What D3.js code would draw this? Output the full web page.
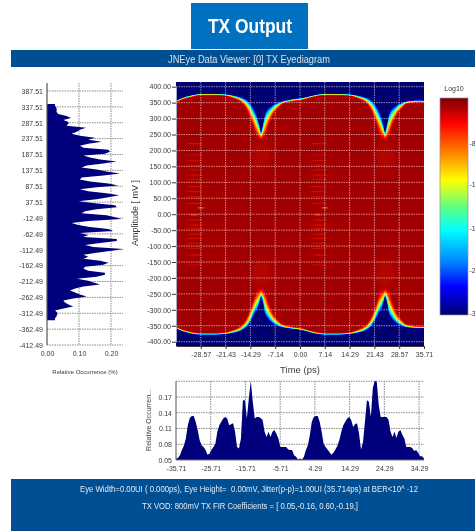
<!DOCTYPE html>
<html lang="en">

<head>
    <meta charset="UTF-8">
    <title>TX Output</title>
    <script src="https://cdn.jsdelivr.net/npm/d3@7"></script>
    <style>
        html, body {
            margin: 0;
            padding: 0;
            background: #fff;
        }

        svg {
            display: block;
            filter: blur(0.5px);
        }

        text {
            font-family: "Liberation Sans", Arial, sans-serif;
        }
    </style>
</head>

<body>
    <svg id="svg1" width="475" height="531"></svg>
    <script>
        // amplitude histogram (left), top bin to bottom bin
        const amplitudeOccurrence = [
            .025, .025, .030, .030, .030, .035, .061, .075, .051, .067, .067, .061, .122, .103, .093, .077,
            .103, .150, .129, .171, .129, .103, .114, .192, .197, .181, .114, .134, .166, .218, .176, .124,
            .108, .155, .186, .228, .176, .108, .103, .134, .192, .223, .155, .103, .129, .186, .226, .192,
            .155, .098, .150, .213, .218, .155, .119, .108, .186, .213, .233, .129, .077,
            .098, .134, .192, .207, .103, .129, .114, .218, .218, .166, .119, .145, .239, .202, .155, .114,
            .129, .114, .166, .192, .176, .119, .114, .129, .181, .181, .155, .093, .129, .145, .166, .114,
            .088, .072, .088, .103, .124, .082, .051, .056, .067, .082, .051, .025, .032, .032, .030, .025, .025
        ];
        const amplitudeTicks = [387.51, 337.51, 287.51, 237.51, 187.51, 137.51, 87.51, 37.51, -12.49,
            -62.49, -112.49, -162.49, -212.49, -262.49, -312.49, -362.49, -412.49];
        const occurrenceTicks = [0, 0.1, 0.2];

        // jitter histogram (bottom), left to right
        const timeOccurrence = [
            .053, .054, .059, .069, .077, .091, .116, .130, .134, .134, .123, .107, .088, .078, .075, .069,
            .060, .062, .069, .075, .081, .104, .116, .123, .129, .132, .129, .116, .118, .120, .104, .075,
            .072, .091, .164, .164, .129, .167, .201, .161, .129, .132, .132, .130, .126, .104, .094, .104,
            .094, .104, .107, .100, .091, .075, .075, .075, .075, .070, .069, .069, .059, .056, .051,
            .053, .051, .056, .069, .078, .097, .123, .132, .134, .134, .123, .104, .081, .075, .070, .065,
            .060, .064, .070, .077, .088, .104, .116, .123, .129, .132, .126, .113, .118, .120, .100, .070,
            .084, .123, .164, .161, .132, .187, .201, .199, .155, .132, .132, .132, .132, .126, .104, .094,
            .104, .092, .104, .107, .098, .091, .075, .075, .075, .073, .067, .069, .064, .057, .057, .053
        ];
        const jitterTicks = [-35.71, -25.71, -15.71, -5.71, 4.29, 14.29, 24.29, 34.29];
        const jitterValueTicks = [0.05, 0.08, 0.11, 0.14, 0.17];

        // eye contours, mV at each time point: navy side and red side of each edge
        const eyeTimes = [-35.71, -33.69, -31.68, -28.5, -24.76, -21.3, -19.28, -17.27, -16.11, -14.96, -13.81, -13.23,
            -12.37, -11.79, -11.21, -10.64, -10.06, -9.2, -8.33, -7.47, -6.31, -5.16, -3.44, -1.7,
            0, 2.02, 4.03, 7.21, 10.95, 14.41, 16.43, 18.44, 19.6, 20.75, 21.9, 22.48,
            23.34, 23.92, 24.5, 25.07, 25.65, 26.51, 27.38, 28.24, 29.4, 30.55, 32.27, 34.01, 35.71];
        const upperNavy = [356, 366, 372, 378, 378, 376, 373, 368, 365, 358, 343, 332,
            311, 285, 259, 285, 320, 335, 341, 347, 351, 354, 358, 362,
            364, 368, 373, 378, 378, 376, 373, 368, 365, 358, 343, 332,
            311, 285, 259, 285, 320, 335, 341, 347, 351, 354, 356, 357, 356];
        const upperRed = [348, 358, 364, 371, 371, 369, 361, 350, 336, 311, 275, 255,
            230, 230, 230, 230, 230, 264, 290, 311, 328, 343, 349, 352,
            354, 360, 366, 371, 371, 369, 361, 350, 336, 311, 275, 255,
            230, 230, 230, 230, 230, 264, 290, 311, 328, 343, 347, 349, 348];
        const lowerNavy = [-358, -368, -374, -378, -378, -376, -373, -368, -362, -352, -332, -318,
            -305, -285, -262, -280, -318, -333, -342, -348, -352, -355, -358, -361,
            -363, -368, -374, -378, -378, -376, -373, -368, -362, -352, -332, -318,
            -305, -285, -262, -280, -318, -333, -342, -348, -352, -355, -357, -358, -358];
        const lowerRed = [-350, -360, -366, -371, -371, -368, -360, -348, -334, -308, -272, -252,
            -230, -230, -230, -230, -230, -262, -290, -310, -328, -342, -348, -352,
            -354, -360, -366, -371, -371, -368, -360, -348, -334, -308, -272, -252,
            -230, -230, -230, -230, -230, -262, -290, -310, -328, -342, -347, -350, -350];

        // ringing streaks inside the eye
        const streakTimes = [-28.57, 7.14];
        const brightStreaks = [222, 186, 168, 154, 139, 123, 110, 86, 71, 55, 34, -18, -34, -44, -62, -76, -91, -107, -128, -159];
        const faintStreaks = [335, 315, 295, 275, 255, -190, -215, -245, -275, -305, -330];
        const dipTimes = [-11.21, 24.5];
        const dipGlowLevels = [185, -185];

        const eyeXTicks = [-28.57, -21.43, -14.29, -7.14, 0, 7.14, 14.29, 21.43, 28.57, 35.71];
        const eyeYTicks = [400, 350, 300, 250, 200, 150, 100, 50, 0, -50, -100, -150, -200, -250, -300, -350, -400];

        // colour bar
        const barStops = [0, 0.115, 0.25, 0.378, 0.503, 0.608, 0.76, 0.87, 1];
        const barColors = ["#7a0000", "#ff0000", "#ff8000", "#ffff00", "#60ff80", "#00ffff", "#0080ff", "#0000ff", "#000070"];
        const barLabels = ["-8", "-1", "-1", "-2", "-3"];
        const barLabelPos = [0.208, 0.4, 0.6, 0.797, 0.995];

        const svg = d3.select("#svg1");
        const inkColor = "#3a3a3a";
        const gridGrey = "#8a8a8a";
        const navy = "#00007c";

        // d3.format gives a real minus sign, the original has plain hyphens
        const tickText = d => d3.format(".2f")(d).replace("\u2212", "-");

        // header and footer
        svg.append("rect").attr("x", 191).attr("y", 3).attr("width", 117).attr("height", 46).attr("fill", "#0070c0");
        svg.append("rect").attr("x", 11).attr("y", 50).attr("width", 464).attr("height", 17).attr("fill", "#004f92");
        svg.append("rect").attr("x", 11).attr("y", 479).attr("width", 464).attr("height", 52).attr("fill", "#004f92");

        svg.append("text").attr("x", 250).attr("y", 33).attr("text-anchor", "middle")
            .attr("font-size", 21).attr("font-weight", "bold").attr("fill", "#fff")
            .attr("textLength", 84).attr("lengthAdjust", "spacingAndGlyphs").text("TX Output");
        svg.append("text").attr("x", 249).attr("y", 63).attr("text-anchor", "middle")
            .attr("font-size", 10.5).attr("fill", "#d5e0ec")
            .attr("textLength", 162).attr("lengthAdjust", "spacingAndGlyphs").text("JNEye Data Viewer: [0] TX Eyediagram");
        svg.append("text").attr("x", 249).attr("y", 492).attr("text-anchor", "middle")
            .attr("font-size", 8.5).attr("fill", "#e4ebf3").attr("xml:space", "preserve")
            .attr("textLength", 338).attr("lengthAdjust", "spacingAndGlyphs")
            .text("Eye Width=0.00UI ( 0.000ps), Eye Height=  0.00mV, Jitter(p-p)=1.00UI (35.714ps) at BER<10^ -12");
        svg.append("text").attr("x", 250).attr("y", 509).attr("text-anchor", "middle")
            .attr("font-size", 8.5).attr("fill", "#e4ebf3")
            .attr("textLength", 216).attr("lengthAdjust", "spacingAndGlyphs")
            .text("TX VOD: 800mV TX FIR Coefficients = [ 0.05,-0.16, 0.60,-0.19,]");

        function styleAxis(g, size) {
            g.selectAll("text").attr("font-size", size).attr("fill", inkColor).style("font-family", '"Liberation Sans", Arial, sans-serif');
            g.selectAll("line").attr("stroke", inkColor);
            g.select(".domain").attr("stroke", inkColor);
        }

        // ---- eye diagram ----
        const eyeX = d3.scaleLinear().domain([-35.71, 35.71]).range([176, 424]);
        const eyeY = d3.scaleLinear().domain([400, -400]).range([86.7, 341.7]);
        const eyeTop = 82, eyeBottom = 346;

        const defs = svg.append("defs");
        defs.append("clipPath").attr("id", "eyeClip").append("rect")
            .attr("x", 176).attr("y", eyeTop).attr("width", 248).attr("height", eyeBottom - eyeTop);
        const soft = defs.append("filter").attr("id", "soft").attr("x", "-50%").attr("y", "-200%").attr("width", "200%").attr("height", "500%");
        soft.append("feGaussianBlur").attr("stdDeviation", "1.2 0.6");
        const glow = defs.append("filter").attr("id", "glow").attr("x", "-100%").attr("y", "-100%").attr("width", "300%").attr("height", "300%");
        glow.append("feGaussianBlur").attr("stdDeviation", 5);

        const barColor = d3.scaleLinear().domain(barStops).range(barColors);

        const eye = svg.append("g").attr("clip-path", "url(#eyeClip)");
        eye.append("rect").attr("x", 176).attr("y", eyeTop).attr("width", 248).attr("height", eyeBottom - eyeTop).attr("fill", barColor(1));

        // stacked contour bands from the navy edge in to the red body,
        // the blues go by quickly and the reds take most of the width
        const bandCount = 36;
        const eyeIndex = d3.range(eyeTimes.length);
        d3.range(bandCount + 1).forEach(k => {
            const f = k / bandCount;
            const band = d3.area()
                .x(i => eyeX(eyeTimes[i]))
                .y0(i => eyeY(lowerNavy[i] + (lowerRed[i] - lowerNavy[i]) * f))
                .y1(i => eyeY(upperNavy[i] + (upperRed[i] - upperNavy[i]) * f))
                .curve(d3.curveMonotoneX);
            eye.append("path").attr("d", band(eyeIndex)).attr("fill", barColor(0.035 + 0.945 * Math.pow(1 - f, 1.8)));
        });

        const streaks = eye.append("g").attr("filter", "url(#soft)");
        streakTimes.forEach(t => {
            streaks.selectAll(null).data(faintStreaks).join("ellipse")
                .attr("cx", eyeX(t)).attr("cy", d => eyeY(d))
                .attr("rx", 24).attr("ry", 0.7).attr("fill", "#7f0000").attr("opacity", 0.3);
            streaks.selectAll(null).data(brightStreaks).join("ellipse")
                .attr("cx", eyeX(t) - 6).attr("cy", d => eyeY(d))
                .attr("rx", 9).attr("ry", 0.7).attr("fill", "#e81000").attr("opacity", 0.65);
            streaks.selectAll(null).data(brightStreaks).join("ellipse")
                .attr("cx", eyeX(t) + 9).attr("cy", d => eyeY(d))
                .attr("rx", 11).attr("ry", 0.6).attr("fill", "#c80a00").attr("opacity", 0.25);
            // hot spots around mid amplitude
            streaks.append("ellipse").attr("cx", eyeX(t)).attr("cy", eyeY(20)).attr("rx", 3).attr("ry", 0.9).attr("fill", "#ff8000").attr("opacity", 0.8);
            streaks.append("ellipse").attr("cx", eyeX(t) - 7).attr("cy", eyeY(-2)).attr("rx", 4).attr("ry", 1.4).attr("fill", "#f02000").attr("opacity", 0.8);
        });

        dipTimes.forEach(t => {
            eye.selectAll(null).data(dipGlowLevels).join("ellipse")
                .attr("cx", eyeX(t)).attr("cy", d => eyeY(d))
                .attr("rx", 9).attr("ry", 14).attr("fill", "#d01000").attr("opacity", 0.45).attr("filter", "url(#glow)");
        });

        // dotted white grid
        const eyeGrid = svg.append("g").attr("stroke", "#fff").attr("stroke-opacity", 0.55).attr("stroke-dasharray", "1.5 1");
        eyeGrid.selectAll(null).data(eyeYTicks).join("line")
            .attr("x1", 176).attr("x2", 424).attr("y1", d => eyeY(d)).attr("y2", d => eyeY(d));
        eyeGrid.selectAll(null).data(eyeXTicks.slice(0, -1)).join("line")
            .attr("x1", d => eyeX(d)).attr("x2", d => eyeX(d)).attr("y1", eyeTop).attr("y2", eyeBottom);

        svg.append("g").attr("transform", "translate(176,0)")
            .call(d3.axisLeft(eyeY).tickValues(eyeYTicks).tickFormat(tickText).tickSize(4).tickPadding(1).tickSizeOuter(0))
            .call(g => styleAxis(g, 7))
            .call(g => g.select(".domain").attr("stroke", "#a8a8c8"));
        svg.append("g").attr("transform", `translate(0,${eyeBottom})`)
            .call(d3.axisBottom(eyeX).tickValues(eyeXTicks).tickFormat(tickText).tickSize(3).tickPadding(3).tickSizeOuter(0))
            .call(g => styleAxis(g, 7));
        svg.append("text").attr("x", 300).attr("y", 373).attr("text-anchor", "middle")
            .attr("font-size", 9.5).attr("fill", inkColor).text("Time (ps)");
        svg.append("text").attr("transform", "translate(138,213) rotate(-90)").attr("text-anchor", "middle")
            .attr("font-size", 9).attr("fill", inkColor).text("Amplitude [ mV ]");

        // ---- amplitude histogram ----
        const ampX = d3.scaleLinear().domain([0, 0.2]).range([47, 111]);
        const ampY = d3.scaleLinear().domain([387.51, -412.49]).range([91, 345]);
        const binHeight = 6.25;
        const ampGrid = svg.append("g").attr("stroke", gridGrey).attr("stroke-dasharray", "1.5 1");
        ampGrid.selectAll(null).data(amplitudeTicks).join("line")
            .attr("x1", 47).attr("x2", 123).attr("y1", d => ampY(d)).attr("y2", d => ampY(d));
        ampGrid.selectAll(null).data(occurrenceTicks.slice(1)).join("line")
            .attr("x1", d => ampX(d)).attr("x2", d => ampX(d)).attr("y1", 83).attr("y2", 345);

        const ampArea = d3.area()
            .y((d, i) => ampY(346.5 - i * binHeight))
            .x0(ampX(0))
            .x1(d => ampX(d));
        svg.append("path").attr("d", ampArea(amplitudeOccurrence)).attr("fill", navy);

        svg.append("g").attr("transform", "translate(47,0)")
            .call(d3.axisLeft(ampY).tickValues(amplitudeTicks).tickFormat(tickText).tickSize(0).tickPadding(4))
            .call(g => styleAxis(g, 7))
            .call(g => g.select(".domain").attr("stroke", "#555").attr("stroke-width", 1.2).attr("d", "M0,83V345"));
        svg.append("g").attr("transform", "translate(0,345)")
            .call(d3.axisBottom(ampX).tickValues(occurrenceTicks).tickFormat(tickText).tickSize(0).tickPadding(6))
            .call(g => styleAxis(g, 7))
            .call(g => g.select(".domain").remove());
        svg.append("text").attr("x", 85).attr("y", 374).attr("text-anchor", "middle")
            .attr("font-size", 6).attr("fill", inkColor).text("Relative Occurrence (%)");

        // ---- jitter histogram ----
        const jitterX = d3.scaleLinear().domain([-35.71, 35.71]).range([176, 424]);
        const jitterY = d3.scaleLinear().domain([0.05, 0.17]).range([460, 397]);
        const jitterStep = 71.42 / (timeOccurrence.length - 1);
        const jitterGrid = svg.append("g").attr("stroke", gridGrey).attr("stroke-dasharray", "1.5 1");
        jitterGrid.selectAll(null).data(jitterValueTicks.slice(1).concat([0.2])).join("line")
            .attr("x1", 176).attr("x2", 424).attr("y1", d => jitterY(d)).attr("y2", d => jitterY(d));
        jitterGrid.selectAll(null).data(jitterTicks.slice(1)).join("line")
            .attr("x1", d => jitterX(d)).attr("x2", d => jitterX(d)).attr("y1", 381).attr("y2", 460);

        const jitterArea = d3.area()
            .x((d, i) => jitterX(-35.71 + i * jitterStep))
            .y0(jitterY(0.05))
            .y1(d => jitterY(d));
        svg.append("path").attr("d", jitterArea(timeOccurrence)).attr("fill", navy);

        svg.append("g").attr("transform", "translate(176,0)")
            .call(d3.axisLeft(jitterY).tickValues(jitterValueTicks).tickFormat(tickText).tickSize(0).tickPadding(4))
            .call(g => styleAxis(g, 7))
            .call(g => g.select(".domain").attr("stroke", "#555").attr("d", "M0,381V460"));
        svg.append("g").attr("transform", "translate(0,460)")
            .call(d3.axisBottom(jitterX).tickValues(jitterTicks).tickFormat(tickText).tickSize(0).tickPadding(6))
            .call(g => styleAxis(g, 7))
            .call(g => g.select(".domain").attr("stroke", "#777").attr("d", "M176,0H424"));
        svg.append("text").attr("transform", "translate(151,420) rotate(-90)").attr("text-anchor", "middle")
            .attr("font-size", 7).attr("fill", inkColor).text("Relative Occurren...");

        // ---- colour bar ----
        const barY = d3.scaleLinear().domain([0, 1]).range([98, 315]);
        const gradient = defs.append("linearGradient").attr("id", "barFill")
            .attr("x1", 0).attr("x2", 0).attr("y1", 0).attr("y2", 1);
        gradient.selectAll("stop").data(barStops).join("stop")
            .attr("offset", d => d)
            .attr("stop-color", (d, i) => barColors[i]);
        svg.append("rect").attr("x", 440).attr("y", barY(0)).attr("width", 28).attr("height", barY(1) - barY(0))
            .attr("fill", "url(#barFill)").attr("stroke", "#8c8ca8").attr("stroke-width", 0.7);
        svg.append("text").attr("x", 454).attr("y", 91).attr("text-anchor", "middle")
            .attr("font-size", 7).attr("fill", inkColor).text("Log10");
        svg.append("g").selectAll("text").data(barLabels).join("text")
            .attr("x", 469.5).attr("y", (d, i) => barY(barLabelPos[i]) + 2.5)
            .attr("font-size", 7).attr("fill", inkColor).text(d => d);
    </script>
</body>

</html>
